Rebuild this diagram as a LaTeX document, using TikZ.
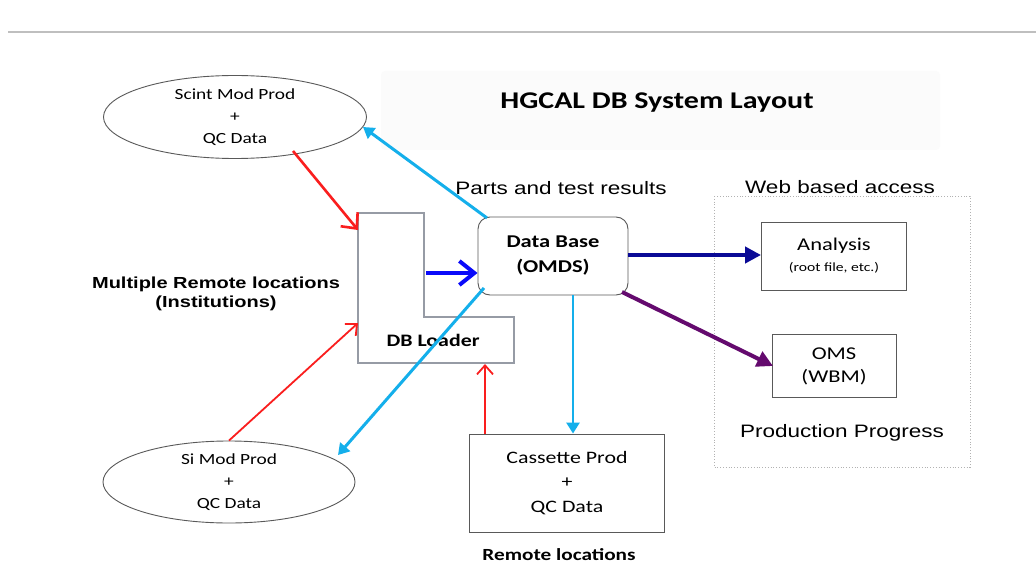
\documentclass[tikz,border=0pt]{standalone}
\usepackage{fontspec}
\setmainfont{Liberation Sans}[FakeStretch=1.25]
\newfontfamily\carl{Carlito}[FakeStretch=1.25]
\usetikzlibrary{shapes.geometric,arrows.meta}
\definecolor{cyanA}{RGB}{20,175,235}
\definecolor{redA}{RGB}{250,30,30}
\definecolor{navyA}{RGB}{10,10,150}
\definecolor{purpA}{RGB}{100,10,110}
\definecolor{blueA}{RGB}{10,10,250}
\definecolor{frameA}{RGB}{150,155,165}
\tikzset{
  ell/.style={ellipse,draw=black!65,line width=0.9pt,inner sep=0pt,align=center,font=\carl\fontsize{15.5}{22}\selectfont},
  boxA/.style={draw=black!65,line width=0.9pt,inner sep=0pt,align=center,font=\carl\fontsize{17.5}{24.5}\selectfont},
  lbl/.style={font=\fontsize{18}{20}\selectfont,inner sep=0pt},
  redthick/.style={redA,line width=2.6pt,-{Straight Barb[length=12pt,width=22pt,line width=2.6pt]}},
  redthin/.style={redA,line width=1.8pt,-{Straight Barb[length=9pt,width=16pt,line width=1.8pt]}},
  cyanarr/.style={cyanA,line width=3pt,-{Triangle[length=11pt,width=13pt]}},
  bigtri/.style={line width=4pt,-{Triangle[length=16pt,width=16pt]}},
}
\begin{document}
\begin{tikzpicture}[x=1pt,y=-1pt]
\useasboundingbox (0,0) rectangle (1036,567);
\fill[white] (0,0) rectangle (1036,567);
% top rule
\draw[black!25,line width=1.5pt] (8,32) -- (1036,32);
% title background
\fill[black!1.5,rounded corners=4pt] (381,71) rectangle (940,150);
\node[font=\carl\bfseries\fontsize{24}{28}\selectfont] (title) at (657,103) {HGCAL DB System Layout};

% ellipses
\node[ell,minimum width=263pt,minimum height=83pt] (scint) at (235,117) {Scint Mod Prod\\+\\QC Data};
\node[ell,minimum width=252pt,minimum height=82pt] (si) at (229,482) {Si Mod Prod\\+\\QC Data};

% DB loader L shape
\draw[frameA,line width=1.6pt] (358,213) -- (424,213) -- (424,317) -- (514,317) -- (514,363) -- (358,363) -- cycle;
\node[font=\carl\bfseries\fontsize{17.5}{20}\selectfont] (loader) at (433,340) {DB Loader};
\coordinate (ldTL) at (358,230);
\coordinate (ldL) at (358,323);
\coordinate (ldB) at (485,364);
\coordinate (ldIn) at (426,273);

% data base
\node[draw=black!65,line width=0.9pt,rounded corners=12pt,minimum width=150pt,minimum height=78pt,align=center,font=\carl\bfseries\fontsize{18}{25}\selectfont] (db) at (553,256) {Data Base\\(OMDS)};

% cassette
\node[boxA,minimum width=195pt,minimum height=98pt] (cas) at (567,483) {Cassette Prod\\+\\QC Data};
\node[font=\carl\bfseries\fontsize{17}{20}\selectfont,inner sep=1pt] (remote) at (559,555) {Remote locations};

% web based access frame
\draw[black!30,line width=0.8pt,dotted] (714,196) rectangle (970,467);
\node[lbl] (web) at (840,187) {Web based access};
\node[boxA,minimum width=145pt,minimum height=68pt,font=\carl\fontsize{18}{23}\selectfont] (ana) at (834,256) {Analysis\\[-2pt]{\fontsize{12.5}{13}\selectfont (root file, etc.)}};
\node[boxA,minimum width=124pt,minimum height=63pt,font=\carl\fontsize{18}{23}\selectfont] (oms) at (834,366) {OMS\\(WBM)};
\node[lbl] (prog) at (842,433) {Production Progress};

% labels
\node[lbl] (parts) at (561,188) {Parts and test results};
\node[font=\bfseries\fontsize{16}{19}\selectfont,align=center] (multi) at (216,294) {Multiple Remote locations\\(Institutions)};

% coordinates for arrow ends
\coordinate (scS) at (293,151);
\coordinate (scE) at (363,127);
\coordinate (siE) at (338,455);
\coordinate (dbTL) at (487,218);
\coordinate (dbBL) at (484,288);
\coordinate (dbPu) at (622,292);
\coordinate (omsW) at (773,366);

% arrows
\draw[redthick] (scS) -- (ldTL);
\draw[redthin] (si.north) -- (ldL);
\draw[redthin] (cas.north -| ldB) -- (ldB);
\draw[cyanarr] (dbTL) -- (scE);
\draw[cyanarr] (dbBL) -- (siE);
\draw[cyanarr,line width=2.6pt] (db.south -| 573,0) -- (cas.north -| 573,0);
\draw[blueA,line width=4pt,-{Straight Barb[length=15pt,width=24pt,line width=4pt]}] (ldIn) -- (db.west |- ldIn);
\draw[navyA,bigtri] (db.east |- 0,255) -- (ana.west |- 0,255);
\draw[purpA,bigtri] (dbPu) -- (omsW);
\end{tikzpicture}
\end{document}
